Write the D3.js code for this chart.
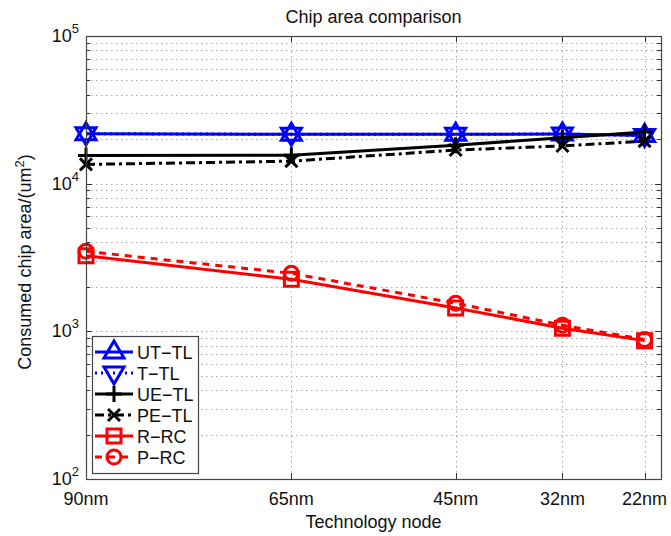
<!DOCTYPE html>
<html>
<head>
<meta charset="utf-8">
<script src="https://cdn.jsdelivr.net/npm/d3@7"></script>
<style>
  body { margin: 0; background: #fff; }
  svg { font-family: "Liberation Sans", Arial, sans-serif; }
</style>
</head>
<body>
<div id="chart-data"></div>
<script>
const nodes = [90, 65, 45, 32, 22];
const nodeLabels = ["90nm", "65nm", "45nm", "32nm", "22nm"];
const utTL = [21800, 21600, 21600, 21700, 21200];
const tTL = [21800, 21600, 21600, 21700, 21200];
const ueTL = [15500, 15600, 18200, 20500, 22400];
const peTL = [13500, 14200, 16900, 18000, 19400];
const rRC = [3250, 2250, 1440, 1050, 865];
const pRC = [3480, 2470, 1550, 1100, 880];
const yTicks = [100, 1000, 10000, 100000];

const series = [
  {name: "UT-TL", values: utTL, color: "#0000ff", dash: null, marker: "up"},
  {name: "T-TL", values: tTL, color: "#0000ff", dash: "2,4", marker: "down"},
  {name: "UE-TL", values: ueTL, color: "#000", dash: null, marker: "plus"},
  {name: "PE-TL", values: peTL, color: "#000", dash: "9,4,3,4", marker: "cross"},
  {name: "R-RC", values: rRC, color: "#ff0000", dash: null, marker: "square"},
  {name: "P-RC", values: pRC, color: "#ff0000", dash: "7,6", marker: "circle"}
];

const markerPath = (type) => {
  switch (type) {
    case "up": return "M0,-11L10,6L-10,6Z";
    case "down": return "M0,11L10,-6L-10,-6Z";
    case "plus": return "M-8,0L8,0M0,-8L0,8";
    case "cross": return "M-6,-6L6,6M-6,6L6,-6";
    case "square": return "M-7,-7L7,-7L7,7L-7,7Z";
    case "circle": return "M7,0A7,7 0 1,1 -7,0A7,7 0 1,1 7,0Z";
  }
};

const drawChart = () => {
  const width = 671;
  const height = 536;
  const left = 86, right = 661, top = 36, bottom = 479;

  const x = d3.scaleLinear().domain([90, 20]).range([left, right]);
  const y = d3.scaleLog().domain([100, 100000]).range([bottom, top]);

  const svg = d3.select("#chart-data")
      .append("svg")
      .attr("width", width)
      .attr("height", height);

  // minor + major log values
  const logVals = [];
  [100, 1000, 10000].forEach(d => {
    for (let k = 1; k <= 9; k++) logVals.push(d * k);
  });
  logVals.push(100000);

  const grid = svg.append("g")
      .attr("stroke", "#a8a8a8")
      .attr("stroke-width", 1)
      .attr("stroke-dasharray", "1.5,3.5");

  grid.selectAll(".hg").data(logVals.filter(v => v > 100 && v < 100000)).enter()
      .append("line")
      .attr("x1", left).attr("x2", right)
      .attr("y1", v => Math.round(y(v)) + 0.5).attr("y2", v => Math.round(y(v)) + 0.5);

  grid.selectAll(".vg").data(nodes).enter()
      .append("line")
      .attr("y1", top).attr("y2", bottom)
      .attr("x1", n => Math.round(x(n)) + 0.5).attr("x2", n => Math.round(x(n)) + 0.5);

  // ticks inside the box
  const ticks = svg.append("g").attr("stroke", "#333").attr("stroke-width", 1);
  logVals.forEach(v => {
    const major = yTicks.includes(v);
    const len = major ? 6 : 4;
    const yy = Math.round(y(v)) + 0.5;
    ticks.append("line").attr("x1", left).attr("x2", left + len).attr("y1", yy).attr("y2", yy);
    ticks.append("line").attr("x1", right).attr("x2", right - len).attr("y1", yy).attr("y2", yy);
  });
  nodes.forEach(n => {
    const xx = Math.round(x(n)) + 0.5;
    ticks.append("line").attr("x1", xx).attr("x2", xx).attr("y1", bottom).attr("y2", bottom - 6);
    ticks.append("line").attr("x1", xx).attr("x2", xx).attr("y1", top).attr("y2", top + 6);
  });

  // data lines
  const line = d3.line()
      .x((v, i) => x(nodes[i]))
      .y(v => y(v));

  series.forEach(s => {
    svg.append("path")
        .attr("d", line(s.values))
        .attr("fill", "none")
        .attr("stroke", s.color)
        .attr("stroke-width", 3)
        .attr("stroke-dasharray", s.dash);

    svg.selectAll(null).data(s.values).enter()
        .append("path")
        .attr("transform", (v, i) => `translate(${x(nodes[i])},${y(v)})`)
        .attr("d", markerPath(s.marker))
        .attr("fill", "none")
        .attr("stroke", s.color)
        .attr("stroke-width", 3);
  });

  // box
  svg.append("rect")
      .attr("x", left + 0.5).attr("y", top + 0.5)
      .attr("width", right - left).attr("height", bottom - top)
      .attr("fill", "none").attr("stroke", "#444").attr("stroke-width", 1.2);

  // axis labels
  svg.selectAll(".xl").data(nodes).enter()
      .append("text")
      .attr("x", n => x(n))
      .attr("y", 505)
      .attr("text-anchor", "middle")
      .attr("font-size", 18)
      .attr("fill", "#111")
      .text((n, i) => nodeLabels[i]);

  const yl = svg.selectAll(".yl").data(yTicks).enter()
      .append("text")
      .attr("x", 79)
      .attr("y", v => y(v) + 6)
      .attr("text-anchor", "end")
      .attr("font-size", 18)
      .attr("fill", "#111");
  yl.append("tspan").text("10");
  yl.append("tspan").attr("dy", -9).attr("font-size", 13).text(v => Math.round(Math.log10(v)));

  svg.append("text")
      .attr("x", (left + right) / 2)
      .attr("y", 23)
      .attr("text-anchor", "middle")
      .attr("font-size", 18)
      .attr("fill", "#111")
      .text("Chip area comparison");

  svg.append("text")
      .attr("x", (left + right) / 2)
      .attr("y", 528)
      .attr("text-anchor", "middle")
      .attr("font-size", 18)
      .attr("fill", "#111")
      .text("Technology node");

  const ylab = svg.append("text")
      .attr("transform", "translate(31,262) rotate(-90)")
      .attr("text-anchor", "middle")
      .attr("font-size", 18)
      .attr("fill", "#111");
  ylab.append("tspan").text("Consumed chip area/(um");
  ylab.append("tspan").attr("dy", -7).attr("font-size", 13).text("2");
  ylab.append("tspan").attr("dy", 7).text(")");

  // legend
  const lg = svg.append("g");
  lg.append("rect")
      .attr("x", 92.5).attr("y", 336.5)
      .attr("width", 106).attr("height", 137)
      .attr("fill", "#fff").attr("stroke", "#444").attr("stroke-width", 1.2);

  series.forEach((s, i) => {
    const ry = 352 + i * 21;
    lg.append("line")
        .attr("x1", 95).attr("x2", 133).attr("y1", ry).attr("y2", ry)
        .attr("stroke", s.color).attr("stroke-width", 3)
        .attr("stroke-dasharray", s.dash);
    lg.append("path")
        .attr("transform", `translate(114,${ry})`)
        .attr("d", markerPath(s.marker))
        .attr("fill", "none")
        .attr("stroke", s.color)
        .attr("stroke-width", 3);
    lg.append("text")
        .attr("x", 137).attr("y", ry + 7)
        .attr("font-size", 18)
        .attr("fill", "#111")
        .text(s.name.replace("-", "\u2212"));
  });
};

window.onload = drawChart;
</script>
</body>
</html>
